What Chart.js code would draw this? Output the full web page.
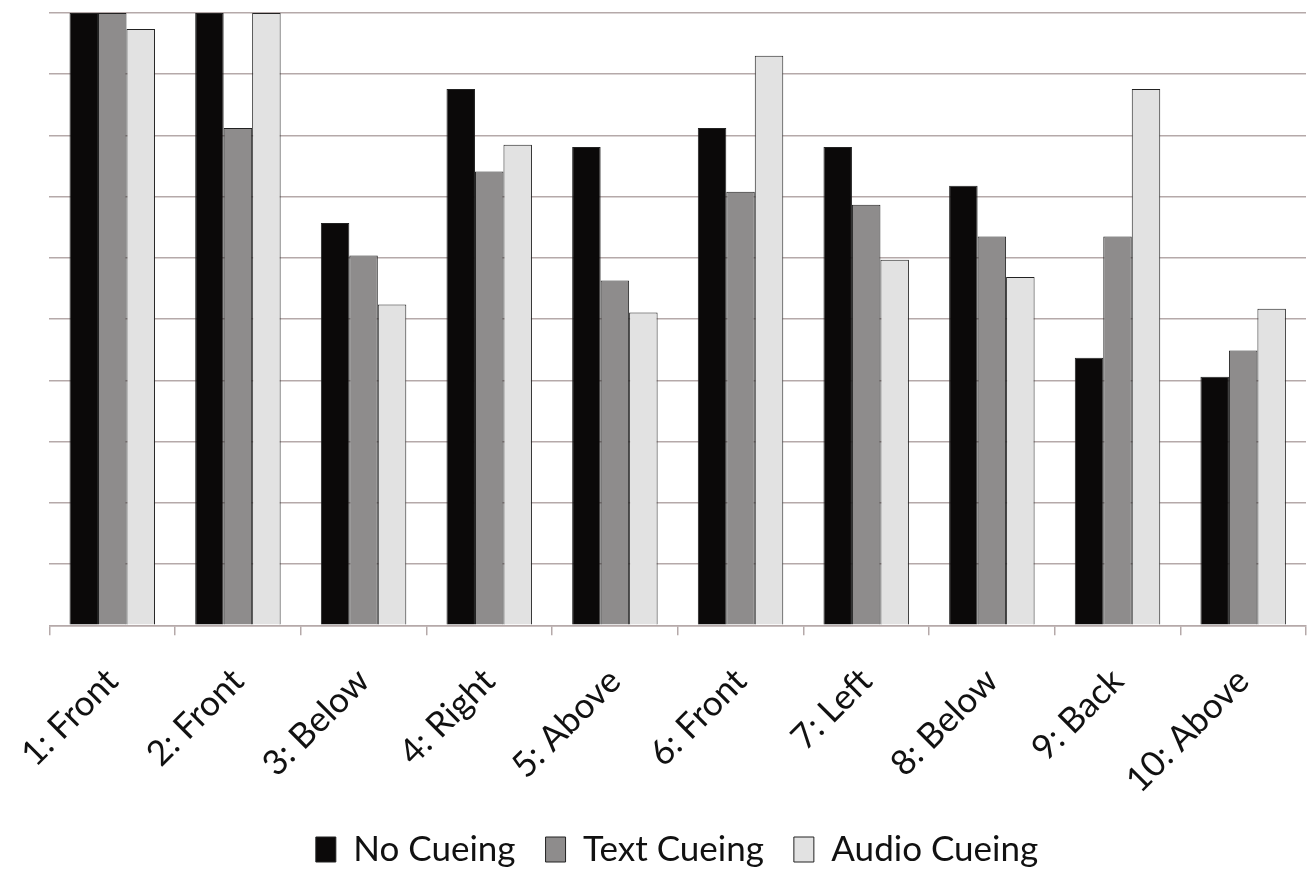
<!DOCTYPE html>
<html>
<head>
<meta charset="utf-8">
<script src="https://cdn.jsdelivr.net/npm/chart.js@4/dist/chart.umd.min.js"></script>
<style>
  html, body { margin: 0; padding: 0; background: #fff; }
  #wrap { width: 1310px; height: 869px; }
</style>
</head>
<body>
<div id="wrap"><canvas id="cueChart"></canvas></div>
<script>
const categories = ['1: Front', '2: Front', '3: Below', '4: Right', '5: Above',
  '6: Front', '7: Left', '8: Below', '9: Back', '10: Above'];
const noCueing = [10, 10, 6.57, 8.76, 7.81, 8.12, 7.81, 7.18, 4.37, 4.06];
const textCueing = [10, 8.12, 6.04, 7.41, 5.63, 7.08, 6.87, 6.35, 6.35, 4.49];
const audioCueing = [9.74, 10, 5.24, 7.85, 5.11, 9.30, 5.97, 5.69, 8.76, 5.17];

const fontFamily = 'Lato, "Open Sans", sans-serif';

const ctx = document.getElementById('cueChart').getContext('2d');
new Chart(ctx, {
  type: 'bar',
  data: {
    labels: categories,
    datasets: [
      { label: 'No Cueing', data: noCueing, backgroundColor: '#0b0909', borderColor: '#222', borderWidth: 1 },
      { label: 'Text Cueing', data: textCueing, backgroundColor: '#8e8c8c', borderColor: '#222', borderWidth: 1 },
      { label: 'Audio Cueing', data: audioCueing, backgroundColor: '#e2e2e2', borderColor: '#222', borderWidth: 1 },
    ],
  },
  options: {
    responsive: true,
    maintainAspectRatio: false,
    animation: false,
    datasets: {
      bar: {
        barPercentage: 1,
        categoryPercentage: 0.68,
      },
    },
    layout: {
      padding: { left: 48, right: 4, top: 13, bottom: -8 },
    },
    plugins: {
      tooltip: { enabled: false },
      legend: {
        position: 'bottom',
        labels: {
          color: '#111',
          font: { family: fontFamily, size: 35 },
          boxWidth: 20,
          boxHeight: 25,
          padding: 30,
        },
      },
    },
    scales: {
      x: {
        // labels sit lower than the axis box needs, let the legend overlap the empty part
        afterFit: (scale) => { scale.height -= 24; },
        grid: {
          display: true,
          drawOnChartArea: false,
          drawTicks: true,
          tickLength: 10,
          color: '#b5a9a9',
          lineWidth: 1.5,
        },
        border: { display: true, color: '#b5a9a9', width: 1.5 },
        ticks: {
          color: '#111',
          font: { family: fontFamily, size: 35 },
          minRotation: 45,
          maxRotation: 45,
          padding: 25,
        },
      },
      y: {
        min: 0,
        max: 10,
        ticks: { display: false, stepSize: 1 },
        grid: {
          color: '#b5a9a9',
          lineWidth: 1.5,
          drawTicks: false,
        },
        border: { display: false },
      },
    },
  },
});
</script>
</body>
</html>
